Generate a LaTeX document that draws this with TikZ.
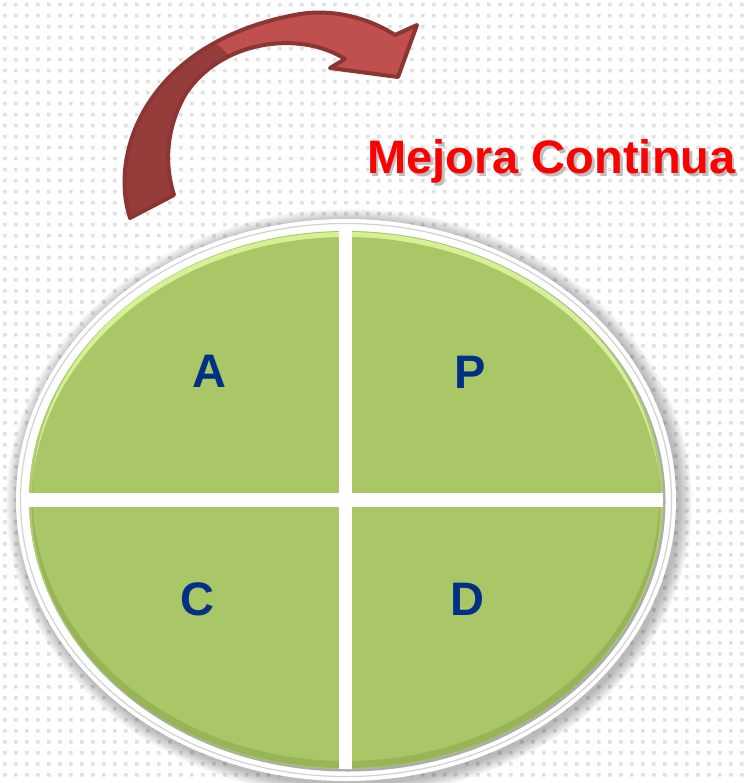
\documentclass[tikz,border=0pt]{standalone}
\usepackage{fontspec}
\setmainfont{Liberation Sans}
\definecolor{dotgray}{RGB}{224,224,224}
\definecolor{leafgreen}{RGB}{169,199,102}
\definecolor{hilite}{RGB}{214,240,150}
\definecolor{shadegreen}{RGB}{130,160,70}
\definecolor{letterblue}{RGB}{3,48,135}
\definecolor{titlered}{RGB}{255,0,0}
\definecolor{titleshade}{RGB}{190,190,190}
\definecolor{arrowlight}{RGB}{192,80,77}
\definecolor{arrowdark}{RGB}{150,60,58}
\definecolor{arrowline}{RGB}{140,54,52}
\tikzset{
  letter/.style={font=\fontsize{47}{47}\selectfont\bfseries, text=letterblue, anchor=base, inner sep=0pt},
  titletext/.style={font=\fontsize{47}{47}\selectfont\bfseries, anchor=base, inner sep=0pt},
  divider/.style={fill=white},
}
\begin{document}
\begin{tikzpicture}[x=1pt,y=-1pt]
\useasboundingbox (0,0) rectangle (746,783);
\fill[white] (0,0) rectangle (746,783);
% dotted background
\fill[dotgray] \foreach \i in {0,...,67}{\foreach \j in {0,...,71}{ (\i*11+3,\j*11+3) rectangle ++(3.5,3.5)}};
% soft shadow around the ring
\foreach \k in {1,...,12}{\fill[black,opacity=0.022] (349,503) ellipse [x radius=330+\k*1.1, y radius=281+\k*1.1];}
% outer ring
\fill[white] (346,500) ellipse [x radius=330, y radius=281];
\draw[gray!35, line width=1.2] (346,500) ellipse [x radius=325.5, y radius=276.5];
% dark rim (bottom-right) under the green face
\fill[gray!65] (347.5,501.5) ellipse [x radius=318, y radius=270];
% green face
\fill[leafgreen] (346,500) ellipse [x radius=317, y radius=269];
\begin{scope}
  \clip (346,500) ellipse [x radius=317, y radius=269];
  \draw[hilite, line width=5] (346,503.5) ellipse [x radius=317, y radius=269];
  \draw[shadegreen, opacity=0.45, line width=7] (346,495.5) ellipse [x radius=317, y radius=269];
  \fill[divider] (339,200) rectangle (352,790);
  \fill[divider] (0,493) rectangle (700,507);
\end{scope}
% letters
\node[letter] (A) at (209,387) {A};
\node[letter] (P) at (470,388) {P};
\node[letter] (C) at (197,615) {C};
\node[letter] (D) at (467,615) {D};
% title with its shadow in one node
\node[titletext, text=titlered] (title) at (551.5,174)
  {\makebox[0pt][l]{\hspace{2.5pt}\raisebox{-3pt}[0pt][0pt]{\textcolor{titleshade}{Mejora Continua}}}Mejora Continua};
% curved arrow
\def\arrowpath{(130,218) .. controls (108,150) and (150,40) .. (300,14) .. controls (340,8) and (375,22) .. (395,35) -- (417,25) -- (398,77) -- (330,68) -- (345,59) .. controls (300,30) and (220,40) .. (185,95) .. controls (168,125) and (163,160) .. (174,195) -- cycle}
\fill[arrowlight] \arrowpath;
\begin{scope}
  \clip \arrowpath;
  \fill[arrowdark] (80,240) -- (80,60) -- (200,28) -- (236,62) -- (210,240) -- cycle;
\end{scope}
\draw[arrowline, line width=4, line join=round] \arrowpath;
\end{tikzpicture}
\end{document}
